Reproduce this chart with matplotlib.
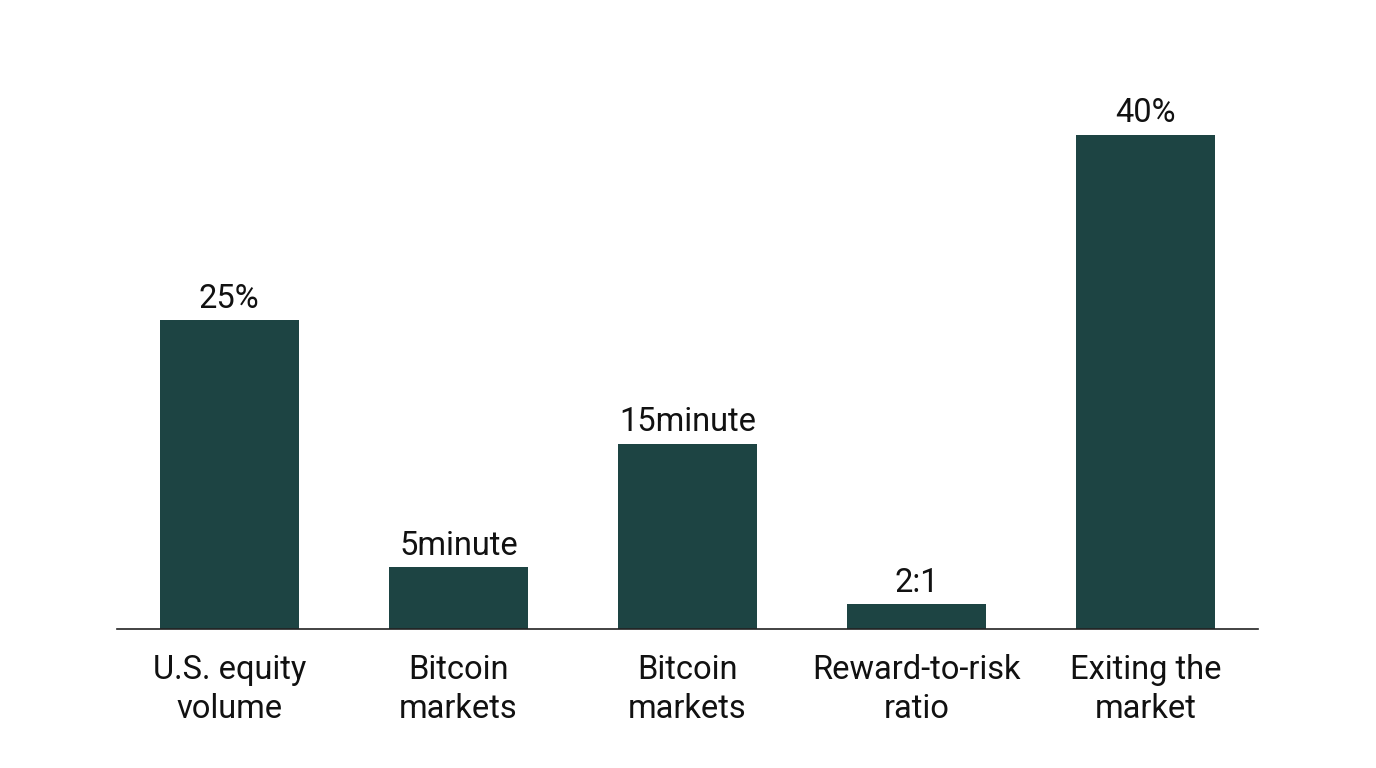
import matplotlib.pyplot as plt

categories = ['U.S. equity\nvolume', 'Bitcoin\nmarkets', 'Bitcoin\nmarkets',
              'Reward-to-risk\nratio', 'Exiting the\nmarket']
values = [25, 5, 15, 2, 40]
bar_labels = ['25%', '5minute', '15minute', '2:1', '40%']

plt.rcParams['font.family'] = ['Roboto', 'DejaVu Sans']

fig = plt.figure(figsize=(13.76, 7.68), dpi=100)
# axes placed to match the reference layout
ax = fig.add_axes([117 / 1376, 139 / 768, (1258 - 117) / 1376, 556 / 768])

x = range(len(values))
bars = ax.bar(x, values, width=0.607, color='#1d4443')
ax.bar_label(bars, labels=bar_labels, padding=4, fontsize=23.5, color='#111111')

ax.set_xlim(-0.49, len(values) - 0.51)
ax.set_ylim(0, 45)
ax.set_xticks(list(x))
ax.set_xticklabels(categories, fontsize=23.5, color='#111111', linespacing=1.27)
ax.tick_params(axis='x', length=0, pad=18)
ax.set_yticks([])

for side in ['top', 'right', 'left']:
    ax.spines[side].set_visible(False)
ax.spines['bottom'].set_linewidth(1.2)
ax.spines['bottom'].set_color('#222222')

fig.savefig('out.png', dpi=100)
